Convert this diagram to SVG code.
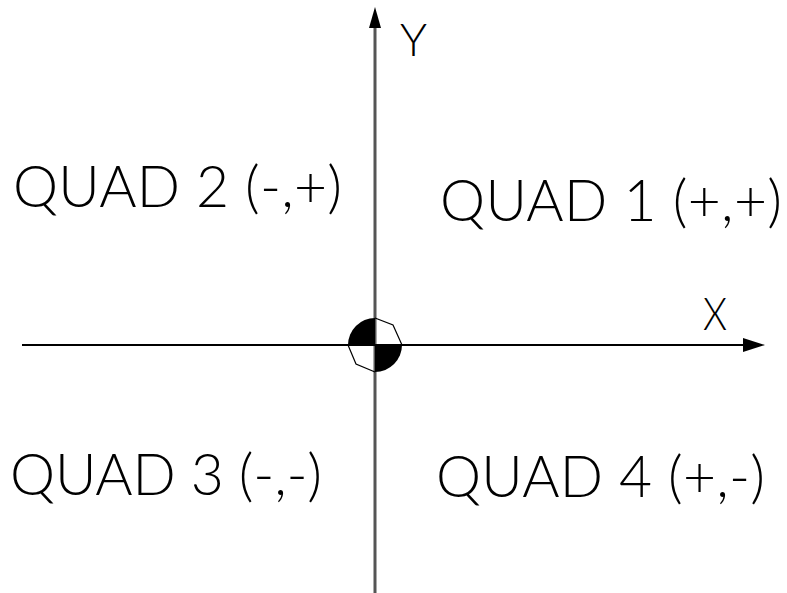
<svg xmlns="http://www.w3.org/2000/svg" width="787" height="593" viewBox="0 0 787 593">
<style>
.lbl{font-family:Lato,"Liberation Sans",Arial,sans-serif;font-weight:300;font-size:57px;fill:#000}
.ax{font-family:Lato,"Liberation Sans",Arial,sans-serif;font-weight:300;font-size:45px;fill:#000}
</style>
<rect width="787" height="593" fill="#fff"/>
<g id="connectors">
<line x1="375" y1="26" x2="375" y2="593" stroke="#555" stroke-width="3"/>
<polygon points="375,7 369,28 381,28" fill="#000"/>
<line x1="22" y1="345" x2="745" y2="345" stroke="#000" stroke-width="2"/>
<polygon points="765,345 743,338 743,352" fill="#000"/>
</g>
<g id="origin">
<path d="M375,345 L375,318 A27,27 0 0 0 348,345 Z" fill="#000"/>
<path d="M375,345 L402,345 A27,27 0 0 1 375,372 Z" fill="#000"/>
<polyline points="375,318 393,325 402,345" fill="none" stroke="#000" stroke-width="1.2"/>
<polyline points="348,345 356,364 375,372" fill="none" stroke="#000" stroke-width="1.2"/>
</g>
<g id="labelY"><text class="ax" x="400" y="56" textLength="27" lengthAdjust="spacingAndGlyphs">Y</text></g>
<g id="labelX"><text class="ax" x="703" y="330" textLength="24" lengthAdjust="spacingAndGlyphs">X</text></g>
<g id="quad2"><text class="lbl" x="13" y="207" textLength="329" lengthAdjust="spacing">QUAD 2 (-,+)</text></g>
<g id="quad1"><text class="lbl" x="440" y="221" textLength="342" lengthAdjust="spacing">QUAD 1 (+,+)</text></g>
<g id="quad3"><text class="lbl" x="10" y="495" textLength="312" lengthAdjust="spacing">QUAD 3 (-,-)</text></g>
<g id="quad4"><text class="lbl" x="436" y="497" textLength="329" lengthAdjust="spacing">QUAD 4 (+,-)</text></g>
</svg>
